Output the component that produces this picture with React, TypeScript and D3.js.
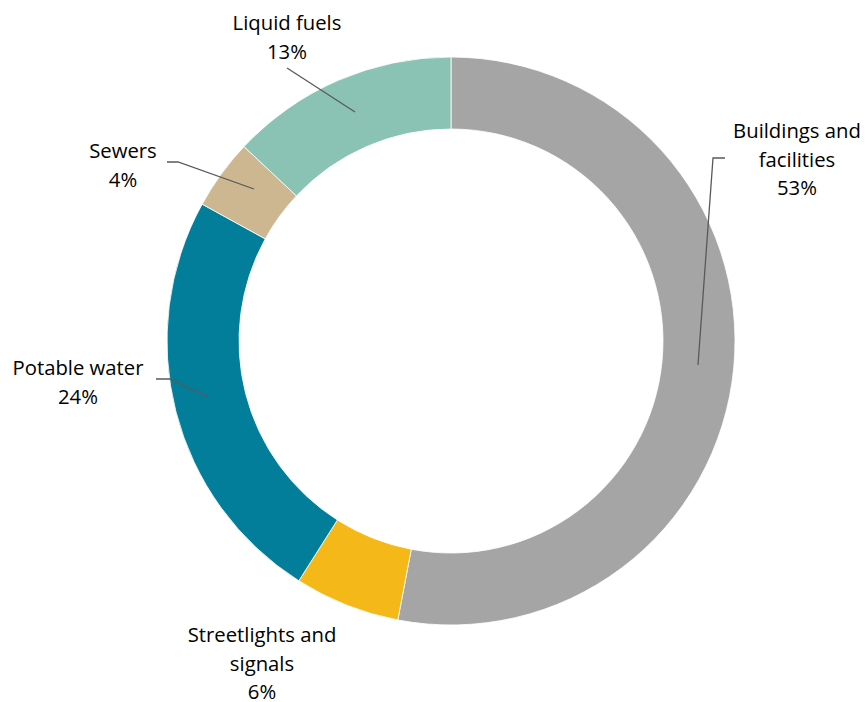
import React from "react";
import * as d3 from "d3";

const categories = ["Buildings and facilities", "Streetlights and signals", "Potable water", "Sewers", "Liquid fuels"];
const values = [53, 6, 24, 4, 13];
const colors = ["#A5A5A5", "#F4B918", "#027E9B", "#CDB791", "#8AC2B3"];
const labelLines = [
  ["Buildings and", "facilities", "53%"],
  ["Streetlights and", "signals", "6%"],
  ["Potable water", "24%"],
  ["Sewers", "4%"],
  ["Liquid fuels", "13%"],
];
// label anchor (centre of first line) and leader polylines
const labelPos: [number, number][] = [[797, 130], [262, 634], [78, 367], [123, 150], [287, 22]];
const leaders: [number, number][][] = [
  [[725, 158], [713, 158], [698, 365]],
  [],
  [[156, 379], [170, 379], [208, 397]],
  [[167, 162], [178, 162], [254, 189]],
  [[287, 68], [355, 112]],
];

export default function App() {
  const W = 865, H = 702;
  const cx = 451, cy = 341, rO = 284, rI = 212;
  const pie = d3.pie<number>().sort(null).value((d) => d)(values);
  const arc = d3.arc<d3.PieArcDatum<number>>().innerRadius(rI).outerRadius(rO);
  const line = d3.line();
  const lh = 28.5;
  return (
    <svg width={W} height={H} style={{ position: "absolute", left: 0, top: 0, background: "#fff" }}
      fontFamily="'Open Sans', 'Noto Sans', sans-serif" fontSize={20.3}>
      <g transform={`translate(${cx},${cy})`}>
        {pie.map((p, i) => (
          <path key={categories[i]} d={arc(p) || ""} fill={colors[i]} stroke="#fff" strokeWidth={0.8} />
        ))}
      </g>
      {leaders.map((pts, i) =>
        pts.length ? <path key={"l" + i} d={line(pts) || ""} fill="none" stroke="#595959" strokeWidth={1.3} /> : null
      )}
      {labelLines.map((lines, i) => (
        <text key={"t" + i} textAnchor="middle" fill="#000">
          {lines.map((s, j) => (
            <tspan key={j} x={labelPos[i][0]} y={labelPos[i][1] + j * lh} dominantBaseline="central">{s}</tspan>
          ))}
        </text>
      ))}
    </svg>
  );
}
